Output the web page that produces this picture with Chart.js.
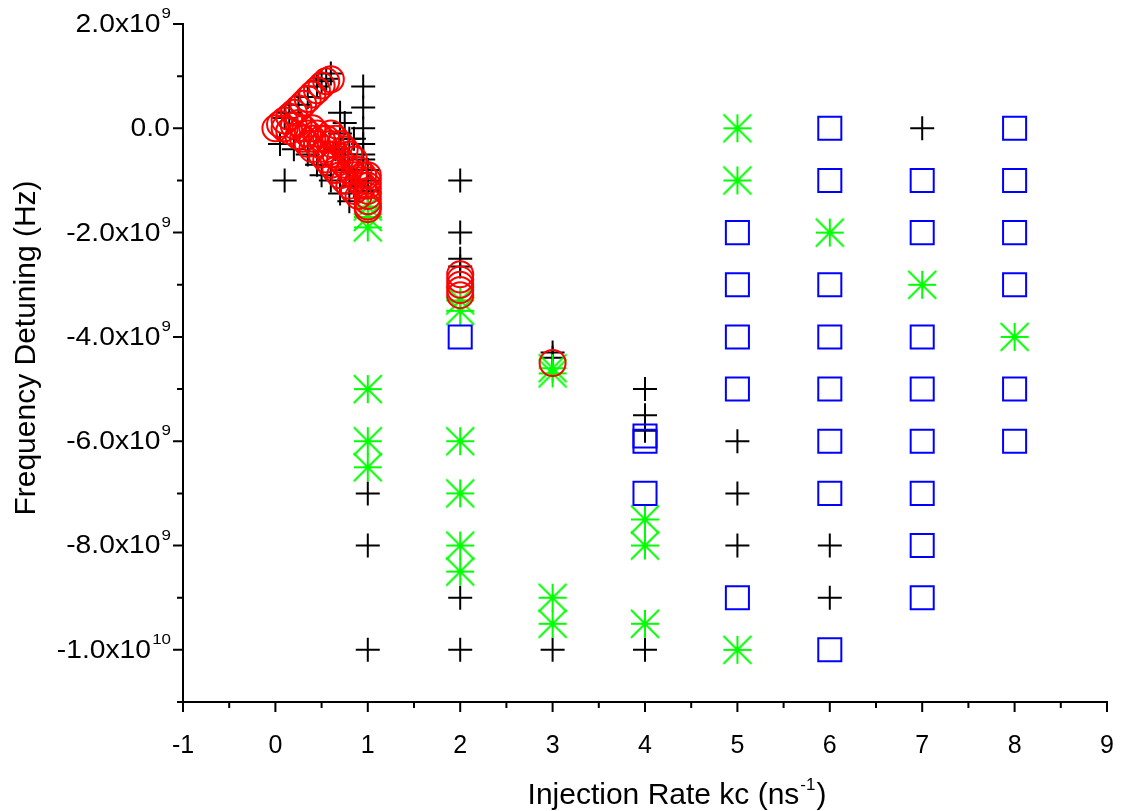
<!DOCTYPE html>
<html>
<head>
<meta charset="utf-8">
<title>Frequency Detuning vs Injection Rate</title>
<script src="https://cdn.jsdelivr.net/npm/chart.js@4/dist/chart.umd.min.js"></script>
<style>
  html, body { margin: 0; padding: 0; background: #ffffff; }
  #wrap { width: 1121px; height: 811px; }
</style>
</head>
<body>
<div id="wrap"><canvas id="chart" width="1121" height="811"></canvas></div>
<script>
// ---- axis ticks ----
const xTickValues = [-1, 0, 1, 2, 3, 4, 5, 6, 7, 8, 9];
const xMinorTicks = [-0.5, 0.5, 1.5, 2.5, 3.5, 4.5, 5.5, 6.5, 7.5, 8.5];
const yTickValues = [2e9, 0, -2e9, -4e9, -6e9, -8e9, -1e10];
const yMinorTicks = [1e9, -1e9, -3e9, -5e9, -7e9, -9e9, -1.1e10];

// ---- black "+" markers ----
const crossKc = [
  0.1, 0.15, 0.25, 0.35, 0.45, 0.5, 0.55, 0.6,
  0.05, 0.2, 0.35, 0.45, 0.5, 0.1,
  0.95, 0.95, 0.95, 0.95, 0.95,
  0.7, 0.75, 0.7, 0.8, 0.85, 0.95, 1.0, 1.0, 1.0,
  0.6, 0.7, 0.8, 0.75, 0.65, 0.8, 0.85,
  1, 1, 1,
  2, 2, 2, 2, 2, 2,
  3, 3, 3,
  4, 4, 4, 4,
  5, 5, 5,
  6, 6,
  7
];
const crossDetuning = [
  0.2e9, 0.3e9, 0.45e9, 0.6e9, 0.8e9, 0.9e9, 0.95e9, 1.05e9,
  -0.3e9, -0.4e9, -0.5e9, -0.7e9, -0.9e9, -1.0e9,
  0.8e9, 0.4e9, 0.0, -0.3e9, -0.6e9,
  0.3e9, 0.1e9, -0.1e9, -0.2e9, -0.2e9, -0.5e9, -0.8e9, -1.0e9, -1.2e9,
  -1.0e9, -1.25e9, -1.4e9, -0.5e9, -0.4e9, -0.8e9, -1.1e9,
  -7e9, -8e9, -1e10,
  -1e9, -2e9, -2.5e9, -2.65e9, -9e9, -1e10,
  -4.3e9, -4.4e9, -1e10,
  -5e9, -5.5e9, -5.8e9, -1e10,
  -6e9, -7e9, -8e9,
  -8e9, -9e9,
  0
];

// ---- green asterisk markers ----
const starKc = [1, 1, 1, 1, 1, 1, 2, 2, 2, 2, 2, 2, 3, 3, 3, 3, 4, 4, 4, 5, 5, 5, 6, 7, 8];
const starDetuning = [
  -1.5e9, -1.7e9, -1.9e9, -5e9, -6e9, -6.5e9,
  -3.3e9, -3.5e9, -6e9, -7e9, -8e9, -8.5e9,
  -4.6e9, -4.7e9, -9e9, -9.5e9,
  -7.5e9, -8e9, -9.5e9,
  0, -1e9, -1e10,
  -2e9, -3e9, -4e9
];

// ---- blue square markers ----
const squareKc = [
  2,
  4, 4, 4,
  5, 5, 5, 5, 5,
  6, 6, 6, 6, 6, 6, 6, 6,
  7, 7, 7, 7, 7, 7, 7, 7,
  8, 8, 8, 8, 8, 8
];
const squareDetuning = [
  -4e9,
  -5.9e9, -6e9, -7e9,
  -2e9, -3e9, -4e9, -5e9, -9e9,
  0, -1e9, -3e9, -4e9, -5e9, -6e9, -7e9, -1e10,
  -1e9, -2e9, -4e9, -5e9, -6e9, -7e9, -8e9, -9e9,
  0, -1e9, -2e9, -3e9, -5e9, -6e9
];

// ---- red circle markers ----
const circleKc = [
  0, 0.05, 0.1, 0.15, 0.2, 0.25, 0.3, 0.35, 0.4, 0.45, 0.5, 0.55, 0.6,
  0.1, 0.15, 0.2, 0.25, 0.3, 0.3, 0.35, 0.4, 0.4, 0.45, 0.5, 0.5, 0.55, 0.55,
  0.6, 0.6, 0.6, 0.65, 0.65, 0.65, 0.7, 0.7, 0.7, 0.75, 0.75, 0.75,
  0.8, 0.8, 0.8, 0.85, 0.85, 0.85, 0.9, 0.9, 0.9, 0.95, 0.95,
  0.25, 0.35, 0.4, 0.45, 0.55, 0.6,
  1, 1, 1, 1, 1, 1, 1, 1,
  2, 2, 2, 2, 2,
  3
];
const circleDetuning = [
  0, 0.08e9, 0.15e9, 0.22e9, 0.3e9, 0.38e9, 0.47e9, 0.56e9, 0.65e9, 0.73e9, 0.82e9, 0.9e9, 0.94e9,
  0.0, -0.05e9, 0.05e9, 0.1e9, 0.0, -0.2e9, -0.1e9, -0.2e9, -0.4e9, -0.3e9, -0.2e9, -0.5e9, -0.4e9, -0.6e9,
  -0.1e9, -0.3e9, -0.7e9, -0.2e9, -0.5e9, -0.8e9, -0.3e9, -0.6e9, -0.9e9, -0.4e9, -0.7e9, -1.0e9,
  -0.5e9, -0.8e9, -1.1e9, -0.6e9, -0.9e9, -1.2e9, -0.8e9, -1.0e9, -1.3e9, -0.9e9, -1.1e9,
  -0.15e9, -0.3e9, 0.0, -0.1e9, -0.2e9, -0.5e9,
  -0.9e9, -1.0e9, -1.1e9, -1.2e9, -1.3e9, -1.4e9, -1.5e9, -1.55e9,
  -2.8e9, -2.9e9, -3.0e9, -3.1e9, -3.2e9,
  -4.5e9
];

const toPoints = (xs, ys) => xs.map((x, i) => ({ x: x, y: ys[i] }));

// asterisk marker: a "+" overlaid with an "x" reaching the corners of its box
function asteriskMarker(half, color, width) {
  const size = half * 2 + 4;
  const c = document.createElement('canvas');
  c.width = size; c.height = size;
  const g = c.getContext('2d');
  const m = size / 2;
  g.strokeStyle = color;
  g.lineWidth = width;
  g.beginPath();
  g.moveTo(m - half, m); g.lineTo(m + half, m);
  g.moveTo(m, m - half); g.lineTo(m, m + half);
  g.moveTo(m - half, m - half); g.lineTo(m + half, m + half);
  g.moveTo(m - half, m + half); g.lineTo(m + half, m - half);
  g.stroke();
  return c;
}

const FONT = '"Liberation Sans", Arial, sans-serif';
const NARROW = '"Liberation Sans Narrow", "Liberation Sans", Arial, sans-serif';

function yLabelParts(v) {
  if (v === 0) return { base: '0.0', sup: '' };
  const exp = Math.floor(Math.log10(Math.abs(v)) + 1e-9);
  const mant = v / Math.pow(10, exp);
  return { base: mant.toFixed(1) + 'x10', sup: String(exp) };
}

// axes, ticks, labels and titles drawn in Origin style
const originAxes = {
  id: 'originAxes',
  afterDraw(chart) {
    const ctx = chart.ctx;
    const xs = chart.scales.x, ys = chart.scales.y;
    const left = xs.getPixelForValue(-1);
    const right = xs.getPixelForValue(9);
    const top = ys.getPixelForValue(2e9);
    const bottom = ys.getPixelForValue(-1.1e10);
    ctx.save();
    ctx.strokeStyle = '#000';
    ctx.lineWidth = 2;
    ctx.beginPath();
    ctx.moveTo(left, top - 1); ctx.lineTo(left, bottom + 1);
    ctx.moveTo(left - 1, bottom); ctx.lineTo(right + 1, bottom);
    // major / minor ticks on x (pointing down)
    xTickValues.forEach(v => { const p = xs.getPixelForValue(v); ctx.moveTo(p, bottom); ctx.lineTo(p, bottom + 10); });
    xMinorTicks.forEach(v => { const p = xs.getPixelForValue(v); ctx.moveTo(p, bottom); ctx.lineTo(p, bottom + 6); });
    // major / minor ticks on y (pointing left)
    yTickValues.forEach(v => { const p = ys.getPixelForValue(v); ctx.moveTo(left, p); ctx.lineTo(left - 10, p); });
    yMinorTicks.forEach(v => { const p = ys.getPixelForValue(v); ctx.moveTo(left, p); ctx.lineTo(left - 6, p); });
    ctx.stroke();

    ctx.fillStyle = '#000';
    // x tick labels
    ctx.font = '25px ' + NARROW;
    ctx.textAlign = 'center';
    ctx.textBaseline = 'middle';
    xTickValues.forEach(v => ctx.fillText(String(v), xs.getPixelForValue(v), bottom + 44));

    // y tick labels with superscript exponents (slightly widened face)
    const baseFont = '25px ' + FONT, supFont = '15px ' + FONT;
    const stretch = 1.13;
    const rightEdge = left - 12;
    yTickValues.forEach(v => {
      const p = ys.getPixelForValue(v);
      const parts = yLabelParts(v);
      ctx.save();
      ctx.translate(rightEdge, p);
      ctx.scale(stretch, 1);
      ctx.font = supFont;
      const sw = parts.sup ? ctx.measureText(parts.sup).width : 0;
      ctx.textAlign = 'right';
      ctx.textBaseline = 'middle';
      ctx.fillText(parts.sup, 0, -10);
      ctx.font = baseFont;
      ctx.fillText(parts.base, -sw - 1, 1);
      ctx.restore();
    });

    // y axis title
    ctx.save();
    ctx.translate(27, 348);
    ctx.rotate(-Math.PI / 2);
    ctx.font = '30px ' + NARROW;
    ctx.textAlign = 'center';
    ctx.textBaseline = 'middle';
    ctx.fillText('Frequency Detuning (Hz)', 0, 0);
    ctx.restore();

    // x axis title with superscript
    const t1 = 'Injection Rate kc (ns', t2 = '-1', t3 = ')';
    ctx.textBaseline = 'alphabetic';
    ctx.textAlign = 'left';
    ctx.font = '30px ' + NARROW;
    const w1 = ctx.measureText(t1).width, w3 = ctx.measureText(t3).width;
    ctx.font = '17px ' + NARROW;
    const w2 = ctx.measureText(t2).width;
    const x0 = 676 - (w1 + w2 + w3) / 2;
    const yb = 804;
    ctx.font = '30px ' + NARROW;
    ctx.fillText(t1, x0, yb);
    ctx.font = '17px ' + NARROW;
    ctx.fillText(t2, x0 + w1 + 1, yb - 14);
    ctx.font = '30px ' + NARROW;
    ctx.fillText(t3, x0 + w1 + w2 + 2, yb);
    ctx.restore();
  }
};

const starImg = asteriskMarker(14, '#00ff00', 2);

new Chart(document.getElementById('chart'), {
  type: 'scatter',
  data: {
    datasets: [
      {
        label: 'circles',
        data: toPoints(circleKc, circleDetuning),
        pointStyle: 'circle',
        pointRadius: 13,
        pointBorderWidth: 2,
        borderColor: '#ff0000',
        backgroundColor: 'rgba(0,0,0,0)',
        order: 0
      },
      {
        label: 'squares',
        data: toPoints(squareKc, squareDetuning),
        pointStyle: 'rect',
        pointRadius: 16.3,
        pointBorderWidth: 2,
        borderColor: '#0000ff',
        backgroundColor: 'rgba(0,0,0,0)',
        order: 1
      },
      {
        label: 'asterisks',
        data: toPoints(starKc, starDetuning),
        pointStyle: starImg,
        pointRadius: 14,
        borderColor: '#00ff00',
        backgroundColor: '#00ff00',
        order: 2
      },
      {
        label: 'crosses',
        data: toPoints(crossKc, crossDetuning),
        pointStyle: 'cross',
        pointRadius: 12,
        pointBorderWidth: 2,
        borderColor: '#000000',
        backgroundColor: '#000000',
        order: 3
      }
    ]
  },
  options: {
    responsive: false,
    devicePixelRatio: 1,
    animation: false,
    events: [],
    layout: { autoPadding: false, padding: { left: 0, right: 14, top: 24, bottom: 0 } },
    plugins: { legend: { display: false }, tooltip: { enabled: false } },
    scales: {
      x: {
        type: 'linear', min: -1, max: 9,
        grid: { display: false }, border: { display: false },
        ticks: { display: false },
        afterFit: s => { s.height = 109; }
      },
      y: {
        type: 'linear', min: -1.1e10, max: 2e9,
        grid: { display: false }, border: { display: false },
        ticks: { display: false },
        afterFit: s => { s.width = 183; }
      }
    }
  },
  plugins: [originAxes]
});
</script>
</body>
</html>
